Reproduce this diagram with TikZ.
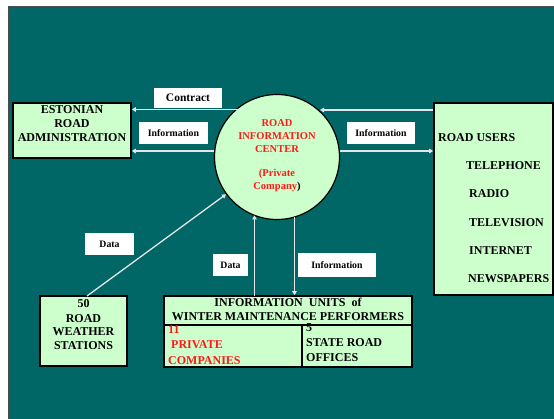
\documentclass[tikz,border=0pt]{standalone}
\usepackage{fontspec}
\setmainfont{Liberation Serif}
\usetikzlibrary{arrows.meta}
\definecolor{bgteal}{HTML}{006666}
\definecolor{boxgreen}{HTML}{CCFFCC}
\definecolor{redtxt}{HTML}{FF1A1A}
\definecolor{linew}{HTML}{E6E6E6}
\begin{document}
\begin{tikzpicture}[x=1pt,y=-1pt,
 box/.style={draw=black, line width=1.6pt, fill=boxgreen, inner sep=0},
 lbl/.style={fill=white, inner sep=0, font=\bfseries\fontsize{9.8}{10}\selectfont},
 conn/.style={draw=linew, line width=1.3pt},
 tipend/.style={-{Triangle[length=4pt,width=4.5pt]}},
 txt/.style={font=\bfseries\fontsize{12}{14}\selectfont, align=center, inner sep=0, anchor=base},
 ltxt/.style={font=\bfseries\fontsize{12}{14}\selectfont, align=left, inner sep=0, anchor=base west},
 ctxt/.style={font=\bfseries\fontsize{10.5}{13}\selectfont, align=center, inner sep=0, anchor=base, text=redtxt},
]
\useasboundingbox (0,0) rectangle (554,419);
\fill[white] (0,0) rectangle (554,419);
\fill[bgteal] (8,6) rectangle (554,419);
\draw[black!70, line width=1.5pt] (8.5,419) -- (8.5,6.5) -- (554,6.5);

% boxes
\node[box, minimum width=118, minimum height=55] (era) at (72,130.5) {};
\node[box, minimum width=119, minimum height=192] (ru) at (493.5,199) {};
\node[box, minimum width=87, minimum height=70] (ws) at (83.5,331) {};
\node[box, minimum width=248, minimum height=29] (iut) at (288,310.5) {};
\node[box, minimum width=138, minimum height=42] (iul) at (233,346) {};
\node[box, minimum width=110, minimum height=42] (iur) at (357,346) {};
\node[draw=black, line width=1.2pt, fill=boxgreen, circle, minimum size=125, inner sep=0] (ric) at (277,157) {};

% box texts (base anchor = last line baseline)
\node[txt] (eratxt) at (72,142) {ESTONIAN\\ROAD\\ADMINISTRATION};
\node[ctxt] (rictxt) at (277,153) {ROAD\\INFORMATION\\CENTER};
\node[ctxt] (rictxt2) at (277,190) {(Private\\Company\textcolor{black}{)}};
\node[ltxt] (ru0) at (438,142) {ROAD USERS};
\node[ltxt] (ru1) at (466,170) {TELEPHONE};
\node[ltxt] (ru2) at (469,198) {RADIO};
\node[ltxt] (ru3) at (469,227) {TELEVISION};
\node[ltxt] (ru4) at (469,255) {INTERNET};
\node[ltxt] (ru5) at (468,283) {NEWSPAPERS};
\node[txt] (wstxt) at (83.5,350) {50\\ROAD\\WEATHER\\STATIONS};
\node[txt] (iuttxt) at (288,321) {INFORMATION\ \ UNITS\ \ of\\WINTER MAINTENANCE PERFORMERS};
\node[ltxt, text=redtxt, font=\bfseries\fontsize{12}{15.5}\selectfont] (iultxt) at (168,364) {11\\\ PRIVATE\\COMPANIES};
\node[ltxt, font=\bfseries\fontsize{12}{15}\selectfont] (iurtxt) at (306,362) {5\\STATE ROAD\\OFFICES};

% labels
\node[lbl, minimum width=68, minimum height=20, font=\bfseries\fontsize{11.5}{12}\selectfont] (lcontract) at (188,98) {Contract};
\node[lbl, minimum width=69, minimum height=22] (linfo1) at (173.5,133) {Information};
\node[lbl, minimum width=68, minimum height=22] (linfo2) at (381,133) {Information};
\node[lbl, minimum width=49, minimum height=22] (ldata1) at (109.5,244) {Data};
\node[lbl, minimum width=35, minimum height=22] (ldata2) at (230.5,265) {Data};
\node[lbl, minimum width=78, minimum height=24] (linfo3) at (337,265) {Information};

% connectors
\coordinate (cA) at (239,109.5);
\draw[conn, tipend] (cA) -- (cA -| era.east);
\draw[conn, tipend] (ric.west |- 0,151) -- (era.east |- 0,151);
\coordinate (cB) at (ru.west |- 0,110);
\draw[conn, tipend] (cB) -- (320,110);
\draw[conn, tipend] (ric.east |- 0,151) -- (ru.west |- 0,151);
\coordinate (cC) at (87,296);
\draw[conn, tipend] (cC) -- (ric);
\coordinate (cD) at (254.5,296);
\draw[conn, tipend] (cD) -- (254.5,215.5);
\coordinate (cE) at (294.5,217);
\draw[conn, tipend] (cE) -- (cE |- iut.north);
\end{tikzpicture}
\end{document}
